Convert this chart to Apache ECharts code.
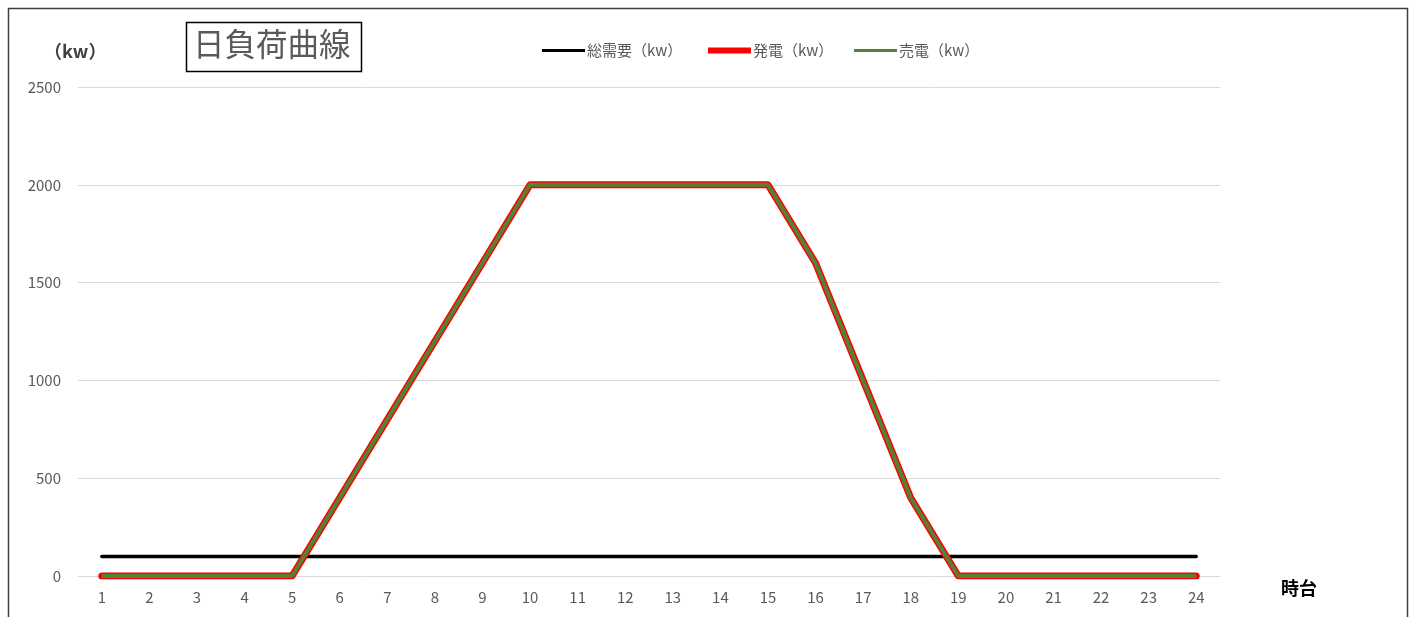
<!DOCTYPE html>
<html><head><meta charset="utf-8">
<script src="https://cdn.jsdelivr.net/npm/echarts@6/dist/echarts.min.js"></script>
<style>html,body{margin:0;padding:0;background:#fff}#c{width:1418px;height:617px}</style>
</head><body><div id="c"></div>
<script>
const hours = ['1','2','3','4','5','6','7','8','9','10','11','12','13','14','15','16','17','18','19','20','21','22','23','24'];
const demand = [100,100,100,100,100,100,100,100,100,100,100,100,100,100,100,100,100,100,100,100,100,100,100,100];
const generation = [0,0,0,0,0,400,800,1200,1600,2000,2000,2000,2000,2000,2000,1600,1000,400,0,0,0,0,0,0];
const sale = [0,0,0,0,0,400,800,1200,1600,2000,2000,2000,2000,2000,2000,1600,1000,400,0,0,0,0,0,0];
const yTicks = [0,500,1000,1500,2000,2500];
const names = ['総需要（kw）','発電（kw）','売電（kw）'];

const font = '"Noto Sans CJK JP", "Noto Sans", sans-serif';
const chart = echarts.init(document.getElementById('c'));
const legendBase = {top: 38, icon: 'rect', itemWidth: 43, itemGap: 0,
  textStyle: {color: '#595959', fontSize: 15, fontFamily: font, padding: [0,0,0,-3]}};
chart.setOption({
  animation: false,
  textStyle: {fontFamily: font},
  graphic: [
    {type: 'rect', shape: {x: 8.5, y: 8.5, width: 1399, height: 640}, style: {fill: 'none', stroke: '#404040', lineWidth: 1.5}, silent: true},
    {type: 'rect', shape: {x: 186.5, y: 22.5, width: 175, height: 49}, style: {fill: '#fff', stroke: '#000', lineWidth: 1.5}},
    {type: 'text', left: 193, top: 28, style: {text: '日負荷曲線', fontSize: 31.5, fill: '#595959', fontFamily: font}},
    {type: 'text', left: 44, top: 42, style: {text: '（kw）', fontSize: 18, fontWeight: 'bold', fill: '#404040', fontFamily: font}},
    {type: 'text', left: 1281, top: 579, style: {text: '時台', fontSize: 18, fontWeight: 'bold', fill: '#000', fontFamily: font}}
  ],
  legend: [
    Object.assign({}, legendBase, {left: 537, data: [names[0]], itemHeight: 3}),
    Object.assign({}, legendBase, {left: 703, data: [names[1]], itemHeight: 6}),
    Object.assign({}, legendBase, {left: 849, data: [names[2]], itemHeight: 3})
  ],
  grid: {left: 78, right: 198, top: 87, bottom: 41, containLabel: false},
  xAxis: {
    type: 'category', data: hours, boundaryGap: true,
    axisLine: {show: false}, axisTick: {show: false},
    axisLabel: {color: '#595959', fontSize: 15, margin: 14}
  },
  yAxis: {
    type: 'value', min: 0, max: yTicks[yTicks.length-1], interval: 500,
    axisLine: {show: false}, axisTick: {show: false},
    axisLabel: {color: '#595959', fontSize: 15, margin: 17, formatter: v => String(v)},
    splitLine: {lineStyle: {color: '#d9d9d9', width: 1}}
  },
  series: [
    {name: names[0], type: 'line', data: demand, symbol: 'none', color: '#000',
     lineStyle: {color: '#000', width: 3.5, cap: 'round'}, z: 2},
    {name: names[1], type: 'line', data: generation, symbol: 'none', color: '#ff0000',
     lineStyle: {color: '#ff0000', width: 7, cap: 'round', join: 'round'}, z: 3},
    {name: names[2], type: 'line', data: sale, symbol: 'none', color: '#538135',
     lineStyle: {color: '#548235', width: 4, cap: 'butt'}, z: 4}
  ]
});
</script></body></html>
